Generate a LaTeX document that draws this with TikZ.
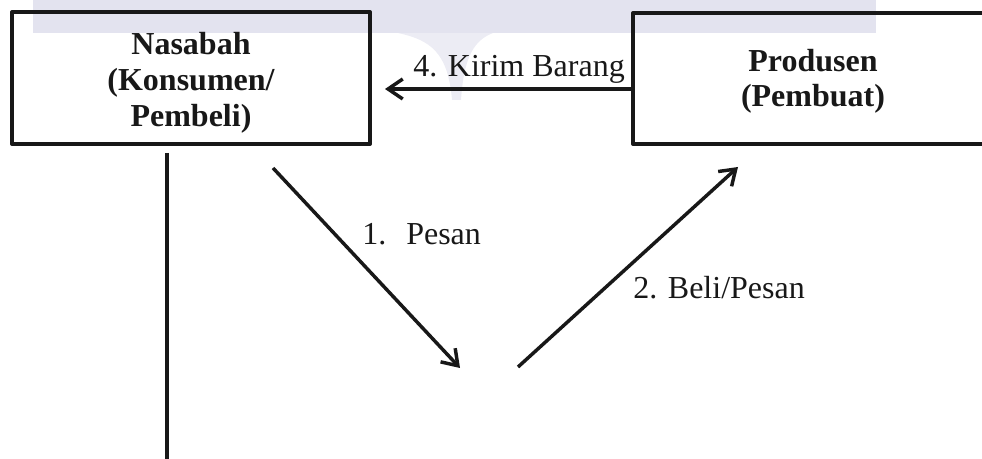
\documentclass[tikz,border=0pt]{standalone}
\usepackage{fontspec}
\setmainfont{Liberation Serif}
\usetikzlibrary{arrows.meta}
\definecolor{wmband}{RGB}{227,227,239}
\definecolor{wmfunnel}{RGB}{236,236,244}
\definecolor{ink}{RGB}{24,24,24}
\begin{document}
\begin{tikzpicture}[x=0.75pt,y=-0.75pt,
  box/.style={draw=ink,line width=3pt,inner sep=0pt,line join=round},
  boxtext/.style={align=center,inner sep=0pt,text=ink},
  lbl/.style={font=\fontsize{24}{27}\selectfont,inner sep=0pt,anchor=base west,text=ink},
  arr/.style={draw=ink,line width=2.6pt,-{Straight Barb[length=11pt,width=15pt]}},
  plain/.style={draw=ink,line width=2.4pt}]
\useasboundingbox (0,0) rectangle (982,459);
% watermark
\fill[wmfunnel] (398,33) .. controls (430,40) and (448,52) .. (452,100) -- (461,100) .. controls (464,55) and (475,40) .. (493,33) -- cycle;
\fill[wmband] (33,0) rectangle (876,33);
% boxes
\node[box,minimum width=268.5pt,minimum height=99pt] (nasabah) at (191,78) {};
\node[boxtext,font=\fontsize{24}{27}\selectfont\bfseries] (nasabahtxt) at (191,83) {Nasabah\\(Konsumen/\\Pembeli)};
\node[box,minimum width=270pt,minimum height=98.25pt] (produsen) at (813,78.5) {};
\node[boxtext,font=\fontsize{24}{26.25}\selectfont\bfseries] (produsentxt) at (813,81.5) {Produsen\\(Pembuat)};
% connector end points
\coordinate (a4s) at (produsen.west |- 0,89);
\coordinate (a4e) at (385,89);
\coordinate (a1s) at (273,168);
\coordinate (a1e) at (460,368);
\coordinate (a2s) at (518,367);
\coordinate (a2e) at (738,167);
\coordinate (vs) at (167,153);
\coordinate (ve) at (167,462);
% connectors
\draw[arr] (a4s) -- (a4e);
\draw[arr] (a1s) -- (a1e);
\draw[arr] (a2s) -- (a2e);
\draw[plain] (vs) -- (ve);
% labels
\node[lbl] (l4) at (413,77) {4. Kirim Barang};
\node[lbl] (l1) at (362,245) {1.\hspace{15pt}Pesan};
\node[lbl] (l2) at (633,299) {2. Beli/Pesan};
\end{tikzpicture}
\end{document}
